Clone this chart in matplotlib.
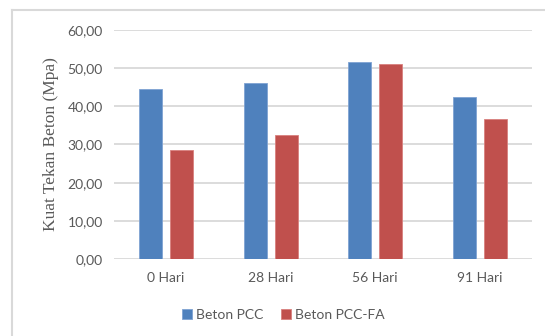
import matplotlib.pyplot as plt
import numpy as np
from matplotlib.lines import Line2D

categories = ["0 Hari", "28 Hari", "56 Hari", "91 Hari"]
pcc = [44.5, 46.2, 51.7, 42.5]
pcc_fa = [28.5, 32.6, 51.0, 36.6]
yticks = [0, 10, 20, 30, 40, 50, 60]
ytick_labels = ["0,00", "10,00", "20,00", "30,00", "40,00", "50,00", "60,00"]

BLUE = "#4F81BD"
RED = "#C0504D"
GRID = "#D9D9D9"
TEXT = "#595959"

fig = plt.figure(figsize=(5.45, 3.36), dpi=100)
ax = fig.add_axes([0.209, 0.229, 0.767, 0.682])

x = np.arange(len(categories))
w = 0.22
off = 0.148
ax.bar(x - off, pcc, w, color=BLUE, edgecolor="#7FA3D3", linewidth=0.6,
       label="Beton PCC", zorder=3)
ax.bar(x + off, pcc_fa, w, color=RED, edgecolor="#D9807E", linewidth=0.6,
       label="Beton PCC-FA", zorder=3)

ax.set_xlim(-0.5, len(categories) - 0.5)
ax.set_ylim(0, 60)
ax.set_yticks(yticks)
ax.set_yticklabels(ytick_labels, family="Lato", fontsize=10, color=TEXT)
ax.set_xticks(x)
ax.set_xticklabels(categories, family="Lato", fontsize=10, color=TEXT)
ax.tick_params(length=0, pad=8)
ax.tick_params(axis="x", pad=9)
ax.grid(axis="y", color=GRID, linewidth=1.3, zorder=0)
for s in ax.spines.values():
    s.set_visible(False)

ax.set_ylabel("Kuat Tekan Beton (Mpa)", family="Liberation Serif",
              fontsize=12.5, color=TEXT, labelpad=6)

handles, labels = ax.get_legend_handles_labels()
fig.legend(handles, labels, loc="center", bbox_to_anchor=(0.52, 0.062),
           ncol=2, frameon=False, prop={"family": "Lato", "size": 10},
           labelcolor=TEXT, handlelength=0.7, handleheight=0.7,
           handletextpad=0.3, columnspacing=1.3)

# light border along the top and left of the chart area
fx, fy = 12 / 545, 1 - 10 / 336
fig.add_artist(Line2D([fx, 1], [fy, fy], color=GRID, linewidth=1.5,
                      transform=fig.transFigure))
fig.add_artist(Line2D([fx, fx], [0, fy], color=GRID, linewidth=1.5,
                      transform=fig.transFigure))

fig.savefig("out.png", dpi=100)
